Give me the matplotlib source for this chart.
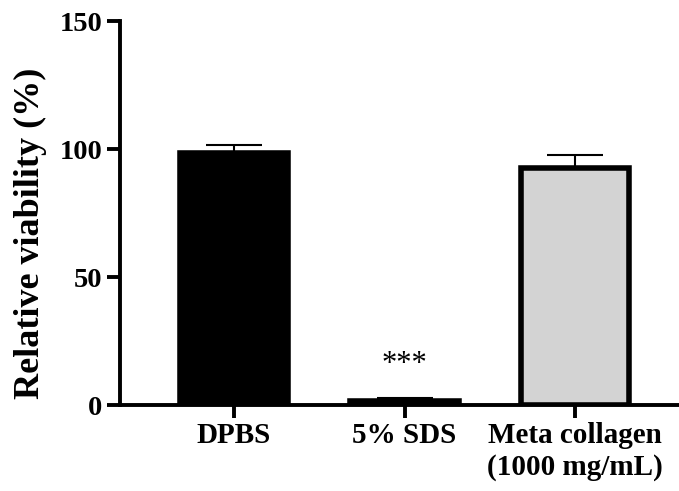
import numpy as np
import matplotlib
matplotlib.use("Agg")
import matplotlib.pyplot as plt

# data
groups = ["DPBS", "5% SDS", "Meta collagen\n(1000 mg/mL)"]
viability = [98.5, 1.5, 92.6]
sd = [3.0, 1.3, 5.0]
colors = ["#000000", "#000000", "#d3d3d3"]
stars = ["", "***", ""]

plt.rcParams["font.family"] = ["Liberation Serif", "DejaVu Serif"]

fig = plt.figure(figsize=(6.79, 4.91), dpi=100)
ax = fig.add_axes([0.1767, 0.175, 0.8233, 0.782])

x = np.arange(len(groups))
ax.bar(x, viability, width=0.635, color=colors, edgecolor="black",
       linewidth=4, zorder=2)
ax.errorbar(x, viability, yerr=[np.zeros(len(sd)), sd], fmt="none",
            ecolor="black", elinewidth=1.5, capsize=20, capthick=1.5,
            zorder=1)

for xi, v, s, st in zip(x, viability, sd, stars):
    if st:
        ax.text(xi, v + s + 13.2, st, ha="center", va="center", fontsize=22)

ax.set_xlim(-0.669, 2.61)
ax.set_ylim(0, 150)
ax.set_yticks([0, 50, 100, 150])
ax.set_xticks(x)
ax.set_xticklabels(groups, fontsize=21, fontweight="bold")
for lab in ax.get_yticklabels():
    lab.set_fontsize(20.5)
    lab.set_fontweight("bold")
ax.set_ylabel("Relative viability (%)", fontsize=26, fontweight="bold")
ax.yaxis.set_label_coords(-0.131, 0.448)

for side in ["top", "right"]:
    ax.spines[side].set_visible(False)
for side in ["left", "bottom"]:
    ax.spines[side].set_linewidth(2.8)
ax.tick_params(axis="both", width=2.8, length=9.5, direction="out", pad=3)

fig.savefig("out.png", dpi=100)
